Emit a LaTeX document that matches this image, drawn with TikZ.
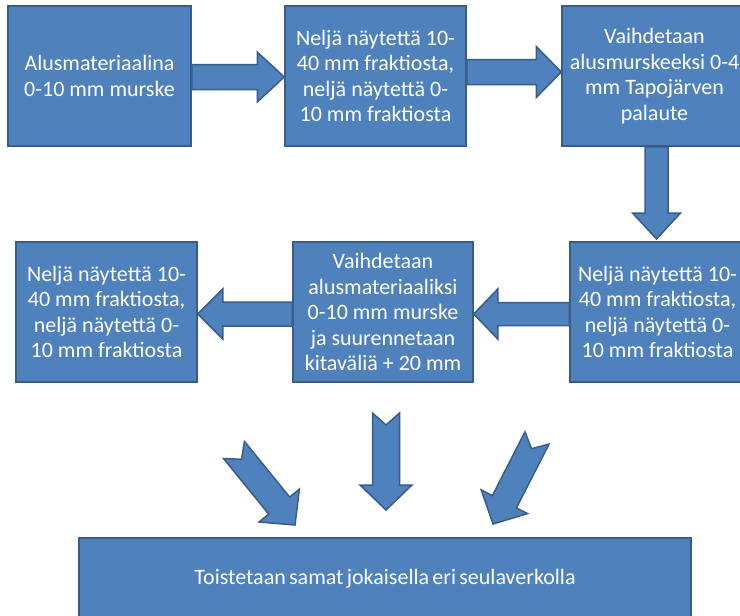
\documentclass[tikz,border=0pt]{standalone}
\usepackage{fontspec}
\setmainfont{Carlito}
\usetikzlibrary{calc}
\pgfdeclarelayer{background}
\pgfsetlayers{background,main}
\definecolor{boxfill}{HTML}{4F81BD}
\definecolor{boxline}{HTML}{385D8A}
\tikzset{
  stepbox/.style={draw=boxline, fill=boxfill, line width=1.5pt, text=white,
    align=center, inner sep=0pt, minimum height=140pt,
    font=\fontsize{22}{25.5}\selectfont},
  blockarrow/.style={draw=boxline, fill=boxfill, line width=1.5pt, line join=miter},
}
% #1 tail, #2 tip, #3 body half width, #4 head half width, #5 head length, #6 notch depth
\newcommand\drawblockarrow[6]{%
  \coordinate (hb) at ($(#2)!#5!(#1)$);
  \path[blockarrow] ($(#1)!#3!90:(#2)$) -- ($(#1)!#6!(#2)$) -- ($(#1)!#3!-90:(#2)$)
    -- ($(hb)!#3!-90:(#2)$) -- ($(hb)!#4!-90:(#2)$) -- (#2)
    -- ($(hb)!#4!90:(#2)$) -- ($(hb)!#3!90:(#2)$) -- cycle;
}
\begin{document}
\begin{tikzpicture}[x=1pt,y=-1pt]
\useasboundingbox (0,0) rectangle (740,616);
\clip (0,0) rectangle (740,616);

% top row
\node[stepbox, minimum width=183pt] (b1) at (99.5,76) {Alusmateriaalina\\0-10 mm murske};
\node[stepbox, minimum width=181pt] (b2) at (375.5,76) {Neljä näytettä 10-\\40 mm fraktiosta,\\neljä näytettä 0-\\10 mm fraktiosta};
\node[stepbox, minimum width=185pt] (b3) at (654.5,76) {Vaihdetaan\\alusmurskeeksi 0-4\\mm Tapojärven\\palaute};
% middle row
\node[stepbox, minimum width=175pt] (b4) at (657.5,312) {Neljä näytettä 10-\\40 mm fraktiosta,\\neljä näytettä 0-\\10 mm fraktiosta};
\node[stepbox, minimum width=180pt] (b5) at (383,312) {Vaihdetaan\\alusmateriaaliksi\\0-10 mm murske\\ja suurennetaan\\kitaväliä + 20 mm};
\node[stepbox, minimum width=181pt] (b6) at (106.5,312) {Neljä näytettä 10-\\40 mm fraktiosta,\\neljä näytettä 0-\\10 mm fraktiosta};
% bottom
\node[stepbox, minimum width=612pt, minimum height=82pt, font=\fontsize{22}{25}\selectfont] (b7) at (385,579)
  {\spaceskip=0.15em\relax Toistetaan samat jokaisella eri seulaverkolla};

% arrow end points
\coordinate (a1s) at (b1.east |- 0,77);
\coordinate (a1e) at (b2.west |- 0,77);
\coordinate (a2s) at (b2.east |- 0,72);
\coordinate (a2e) at (b3.west |- 0,72);
\coordinate (a3s) at (b3.south -| 656.5,0);
\coordinate (a3e) at (656.5,239);
\coordinate (a4s) at (b4.west |- 0,314);
\coordinate (a4e) at (b5.east |- 0,314);
\coordinate (a5s) at (b5.west |- 0,314);
\coordinate (a5e) at (b6.east |- 0,314);
\coordinate (l1s) at (234,450);
\coordinate (l1e) at (295,525);
\coordinate (m1s) at (386,413);
\coordinate (m1e) at (386,510);
\coordinate (r1s) at (537,438);
\coordinate (r1e) at (493,524);

\begin{pgfonlayer}{background}
\fill[white] (0,0) rectangle (740,616);
\drawblockarrow{a1s}{a1e}{12.5pt}{25pt}{27pt}{0pt}
\drawblockarrow{a2s}{a2e}{12.5pt}{25.5pt}{25pt}{0pt}
\drawblockarrow{a3s}{a3e}{11.5pt}{24pt}{26pt}{0pt}
\drawblockarrow{a4s}{a4e}{11.5pt}{25pt}{24pt}{0pt}
\drawblockarrow{a5s}{a5e}{12pt}{25pt}{25pt}{0pt}
\end{pgfonlayer}
\drawblockarrow{l1s}{l1e}{13.5pt}{26pt}{25pt}{12pt}
\drawblockarrow{m1s}{m1e}{13.5pt}{26pt}{25pt}{12pt}
\drawblockarrow{r1s}{r1e}{13.5pt}{26pt}{25pt}{12pt}
\end{tikzpicture}
\end{document}
